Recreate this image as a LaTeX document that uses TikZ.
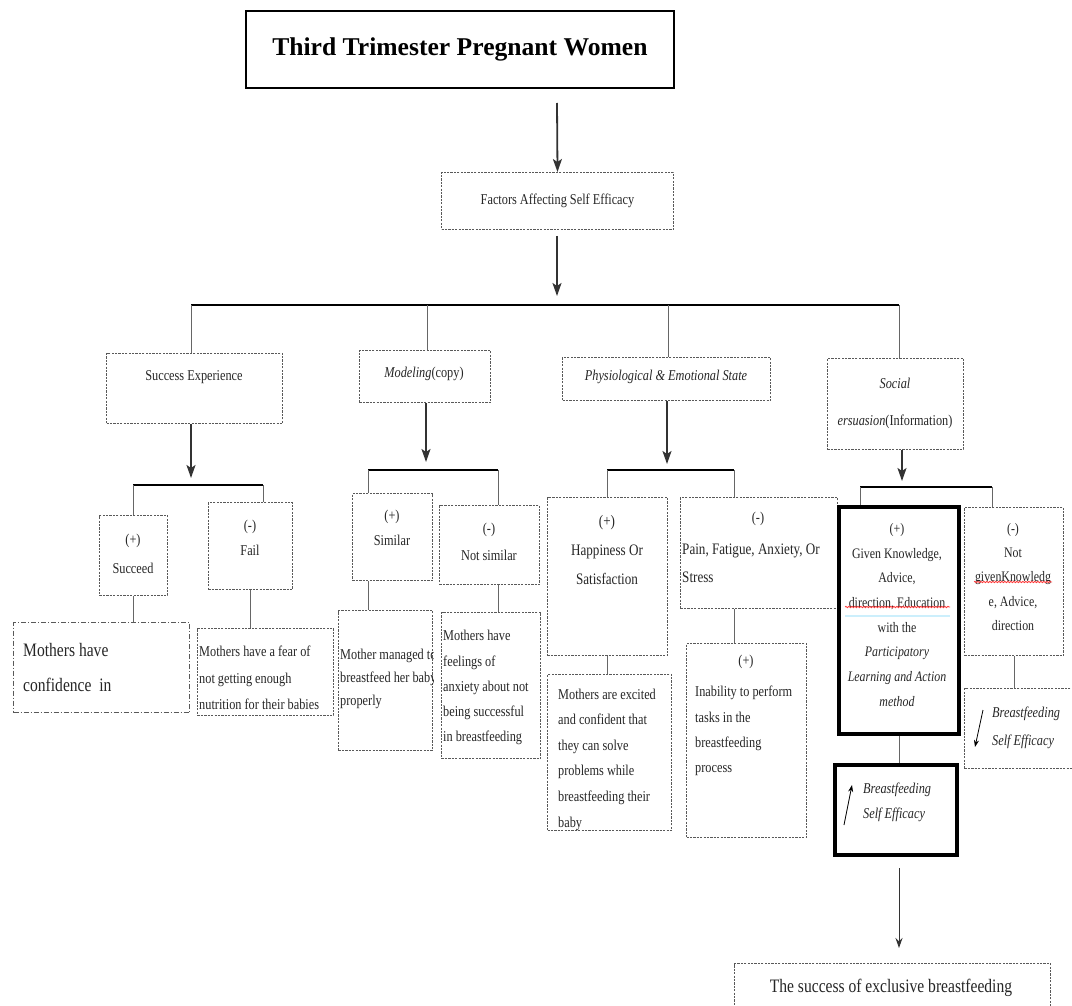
\documentclass[tikz,border=0pt]{standalone}
\usepackage{fontspec}
\setmainfont{Liberation Serif}
\newfontfamily\nar[FakeStretch=0.82]{Liberation Serif}
\newcommand\fsz[2]{\nar\fontsize{#1}{#2}\selectfont}
\usetikzlibrary{arrows.meta,decorations.pathmorphing,calc}
\begin{document}
\begin{tikzpicture}[x=1pt,y=-1pt]
\tikzset{
 dbox/.style={draw=black!65, line width=1pt, dash pattern=on 2.2pt off 1.2pt, inner sep=0pt, anchor=north west},
 ddbox/.style={dbox, dash pattern=on 5pt off 2pt on 1pt off 2pt},
 tbox/.style={draw=black, line width=4pt, inner sep=0pt, anchor=north west},
 hbox/.style={draw=black, line width=1.8pt, inner sep=0pt, anchor=north west},
 arr/.style={draw=black!80, line width=1.8pt, -{Stealth[length=13pt,width=9pt,inset=3pt]}},
 thinarr/.style={draw=black!80, line width=1pt, -{Stealth[length=10pt,width=7pt]}},
 smallarr/.style={draw=black, line width=0.8pt, -{Stealth[length=7pt,width=5pt]}},
 bar/.style={draw=black, line width=1.7pt},
 drop/.style={draw=black!60, line width=1pt},
 txt/.style={inner sep=0pt, font=\fsz{15}{18}, text=black!85},
 txtc/.style={txt, anchor=north, align=center},
 txtl/.style={txt, anchor=north west, align=left},
 squig/.style={draw=red!80, line width=0.8pt, decorate, decoration={snake, amplitude=0.7pt, segment length=3pt}},
}
\useasboundingbox[fill=white] (0,0) rectangle (1072,1006);

% title
\node[hbox, minimum width=428pt, minimum height=77pt, font=\bfseries\fontsize{25.6}{30}\selectfont] (title) at (245,10) {Third Trimester Pregnant Women};
\coordinate (a1s) at (557,103);
\node[dbox, minimum width=232pt, minimum height=57pt, font=\fsz{15}{18}, text=black!85] (factors) at (441,172) {Factors Affecting Self Efficacy};
\draw[arr] (a1s) -- (factors.north);
\coordinate (a2s) at (557,236);
\coordinate (a2e) at (557,296);
\draw[arr] (a2s) -- (a2e);

% main bar
\coordinate (b1a) at (191,305);
\coordinate (b1b) at (427,305);
\coordinate (b1c) at (668,305);
\coordinate (b1d) at (899,305);
\draw[bar] (b1a) -- (b1d);

% categories
\node[dbox, minimum width=176pt, minimum height=70pt] (se) at (106,353) {};
\node[txt, anchor=mid] (set) at (194,378) {Success Experience};
\node[dbox, minimum width=131pt, minimum height=52pt] (mod) at (359,350) {};
\node[txt, anchor=mid] (modt) at (424,375) {\textit{Modeling}(copy)};
\node[dbox, minimum width=208pt, minimum height=43pt] (phys) at (562,357) {};
\node[txt, anchor=mid] (physt) at (666,378) {\textit{Physiological \& Emotional State}};
\node[dbox, minimum width=136pt, minimum height=91pt] (soc) at (827,358) {};
\node[txtc, font=\fsz{15}{37}] (soct) at (895,362) {\strut\textit{Social}\\\textit{ersuasion}(Information)};

\draw[drop] (b1a) -- (se.north -| b1a);
\draw[drop] (b1b) -- (mod.north -| b1b);
\draw[drop] (b1c) -- (phys.north -| b1c);
\draw[drop] (b1d) -- (soc.north -| b1d);

% second-level arrows and bars
\coordinate (e2) at (191,478);
\coordinate (e3) at (426,462);
\coordinate (e4) at (667,464);
\coordinate (e5) at (902,481);
\draw[arr] (se.south -| e2) -- (e2);
\draw[arr] (mod.south -| e3) -- (e3);
\draw[arr] (phys.south -| e4) -- (e4);
\draw[arr] (soc.south -| e5) -- (e5);

\coordinate (b2a) at (133,485); \coordinate (b2b) at (263,485);
\coordinate (b3a) at (368,470); \coordinate (b3b) at (498,470);
\coordinate (b4a) at (607,470); \coordinate (b4b) at (734,470);
\coordinate (b5a) at (860,487); \coordinate (b5b) at (992,487);
\draw[bar] (b2a) -- (b2b);
\draw[bar] (b3a) -- (b3b);
\draw[bar] (b4a) -- (b4b);
\draw[bar] (b5a) -- (b5b);

% success experience sub boxes
\node[dbox, minimum width=68pt, minimum height=80pt] (succ) at (99,515) {};
\node[txtc, font=\fsz{15}{29}] (succt) at (133,524) {\strut(+)\\Succeed};
\node[dbox, minimum width=84pt, minimum height=87pt] (fail) at (208,502) {};
\node[txtc, font=\fsz{15}{25}] (failt) at (250,513) {\strut(-)\\Fail};
\draw[drop] (b2a) -- (succ.north -| b2a);
\draw[drop] (b2b) -- (fail.north -| b2b);

% modeling sub boxes
\node[dbox, minimum width=80pt, minimum height=87pt] (sim) at (352,493) {};
\node[txtc, font=\fsz{15}{25}] (simt) at (392,503) {\strut(+)\\Similar};
\node[dbox, minimum width=100pt, minimum height=79pt] (nsim) at (439,505) {};
\node[txtc, font=\fsz{15}{27}] (nsimt) at (489,514) {\strut(-)\\Not similar};
\draw[drop] (b3a) -- (sim.north -| b3a);
\draw[drop] (b3b) -- (nsim.north -| b3b);

% physiological sub boxes
\node[dbox, minimum width=120pt, minimum height=158pt] (hap) at (547,497) {};
\node[txtc, font=\fsz{16}{29}] (hapt) at (607,506) {\strut(+)\\Happiness Or\\Satisfaction};
\node[dbox, minimum width=157pt, minimum height=111pt] (pain) at (680,497) {};
\node[txt, anchor=mid] (painp) at (758,520) {(-)};
\node[txtl, font=\fsz{16}{28}] (paint) at (682,535) {\strut Pain, Fatigue, Anxiety, Or\\Stress};
\draw[drop] (b4a) -- (hap.north -| b4a);
\draw[drop] (b4b) -- (pain.north -| b4b);

% social sub boxes
\node[tbox, minimum width=120pt, minimum height=227pt] (giv) at (837,505) {};
\node[txtc, font=\fsz{14.5}{24.7}] (givt) at (897,516) {\strut(+)\\Given Knowledge,\\Advice,\\direction, Education\\with the\\\textit{Participatory}\\\textit{Learning and Action}\\\textit{method}};
\node[dbox, minimum width=99pt, minimum height=148pt] (ngiv) at (964,507) {};
\node[txtc, font=\fsz{14.5}{24.3}] (ngivt) at (1013,516) {\strut(-)\\Not\\givenKnowledg\\e, Advice,\\direction};
\draw[drop] (b5a) -- (giv.north -| b5a);
\draw[drop] (b5b) -- (ngiv.north -| b5b);

% spell-check marks
\coordinate (q1a) at (845,607); \coordinate (q1b) at (950,607);
\coordinate (q2a) at (974,582); \coordinate (q2b) at (1052,582);
\coordinate (q3a) at (845,616); \coordinate (q3b) at (950,616);
\draw[draw=cyan!20, line width=2pt] (q3a) -- (q3b);
\draw[squig] (q1a) -- (q1b);
\draw[squig] (q2a) -- (q2b);

% third row
\node[ddbox, minimum width=176pt, minimum height=90pt] (conf) at (13,622) {};
\node[txtl, font=\fsz{19}{35}] (conft) at (23,632) {\strut Mothers have\\confidence\ \ in};
\node[dbox, minimum width=136pt, minimum height=87pt] (fear) at (197,628) {};
\node[txtl, font=\fsz{15}{26.5}] (feart) at (199,638) {\strut Mothers have a fear of\\not getting enough\\nutrition for their babies};
\node[dbox, minimum width=94pt, minimum height=140pt] (mgd) at (338,610) {};
\begin{scope}
\clip (mgd.north west) rectangle (mgd.south east);
\node[txtl, font=\fsz{15}{23}] (mgdt) at (340,643) {\strut Mother managed to\\breastfeed her baby\\properly};
\end{scope}
\node[dbox, minimum width=99pt, minimum height=146pt] (nsx) at (441,612) {};
\node[txtl, font=\fsz{15}{25.2}] (nsxt) at (443,623) {\strut Mothers have\\feelings of\\anxiety about not\\being successful\\in breastfeeding};
\node[dbox, minimum width=124pt, minimum height=156pt] (exc) at (547,674) {};
\begin{scope}
\clip (exc.north west) rectangle (exc.south east);
\node[txtl, font=\fsz{15}{25.6}] (exct) at (558,681) {\strut Mothers are excited\\and confident that\\they can solve\\problems while\\breastfeeding their\\baby};
\end{scope}
\node[dbox, minimum width=120pt, minimum height=194pt] (inab) at (686,643) {};
\node[txt, anchor=mid] (inabp) at (746,663) {(+)};
\node[txtl, font=\fsz{15}{25.3}] (inabt) at (695,679) {\strut Inability to perform\\tasks in the\\breastfeeding\\process};

\draw[drop] (succ.south) -- (succ.south |- conf.north);
\draw[drop] (fail.south) -- (fail.south |- fear.north);
\draw[drop] (sim.south -| b3a) -- (mgd.north -| b3a);
\draw[drop] (nsim.south -| b3b) -- (nsx.north -| b3b);
\draw[drop] (hap.south) -- (hap.south |- exc.north);
\draw[drop] (pain.south -| b4b) -- (inab.north -| b4b);

% self efficacy boxes
\node[tbox, minimum width=122pt, minimum height=90pt] (up) at (833,763) {};
\node[txtl, font={\fsz{15}{25}\itshape}] (upt) at (863,776) {\strut Breastfeeding\\Self Efficacy};
\coordinate (ua1) at (844,825); \coordinate (ua2) at (852,785);
\draw[smallarr] (ua1) -- (ua2);
\node[dbox, minimum width=120pt, minimum height=80pt] (down) at (964,688) {};
\node[txtl, font={\fsz{15}{28}\itshape}] (downt) at (992,698) {\strut Breastfeeding\\Self Efficacy};
\coordinate (da1) at (983,710); \coordinate (da2) at (975,747);
\draw[smallarr] (da1) -- (da2);
\draw[drop] (giv.south) -- (giv.south |- up.north);
\draw[drop] (ngiv.south) -- (ngiv.south |- down.north);

% final
\coordinate (f1) at (899,868); \coordinate (f2) at (899,948);
\draw[thinarr] (f1) -- (f2);
\node[dbox, minimum width=316pt, minimum height=70pt] (final) at (734,963) {};
\node[txt, anchor=mid, font=\fsz{19}{22}] (finalt) at (891,990) {The success of exclusive breastfeeding};
\end{tikzpicture}
\end{document}
